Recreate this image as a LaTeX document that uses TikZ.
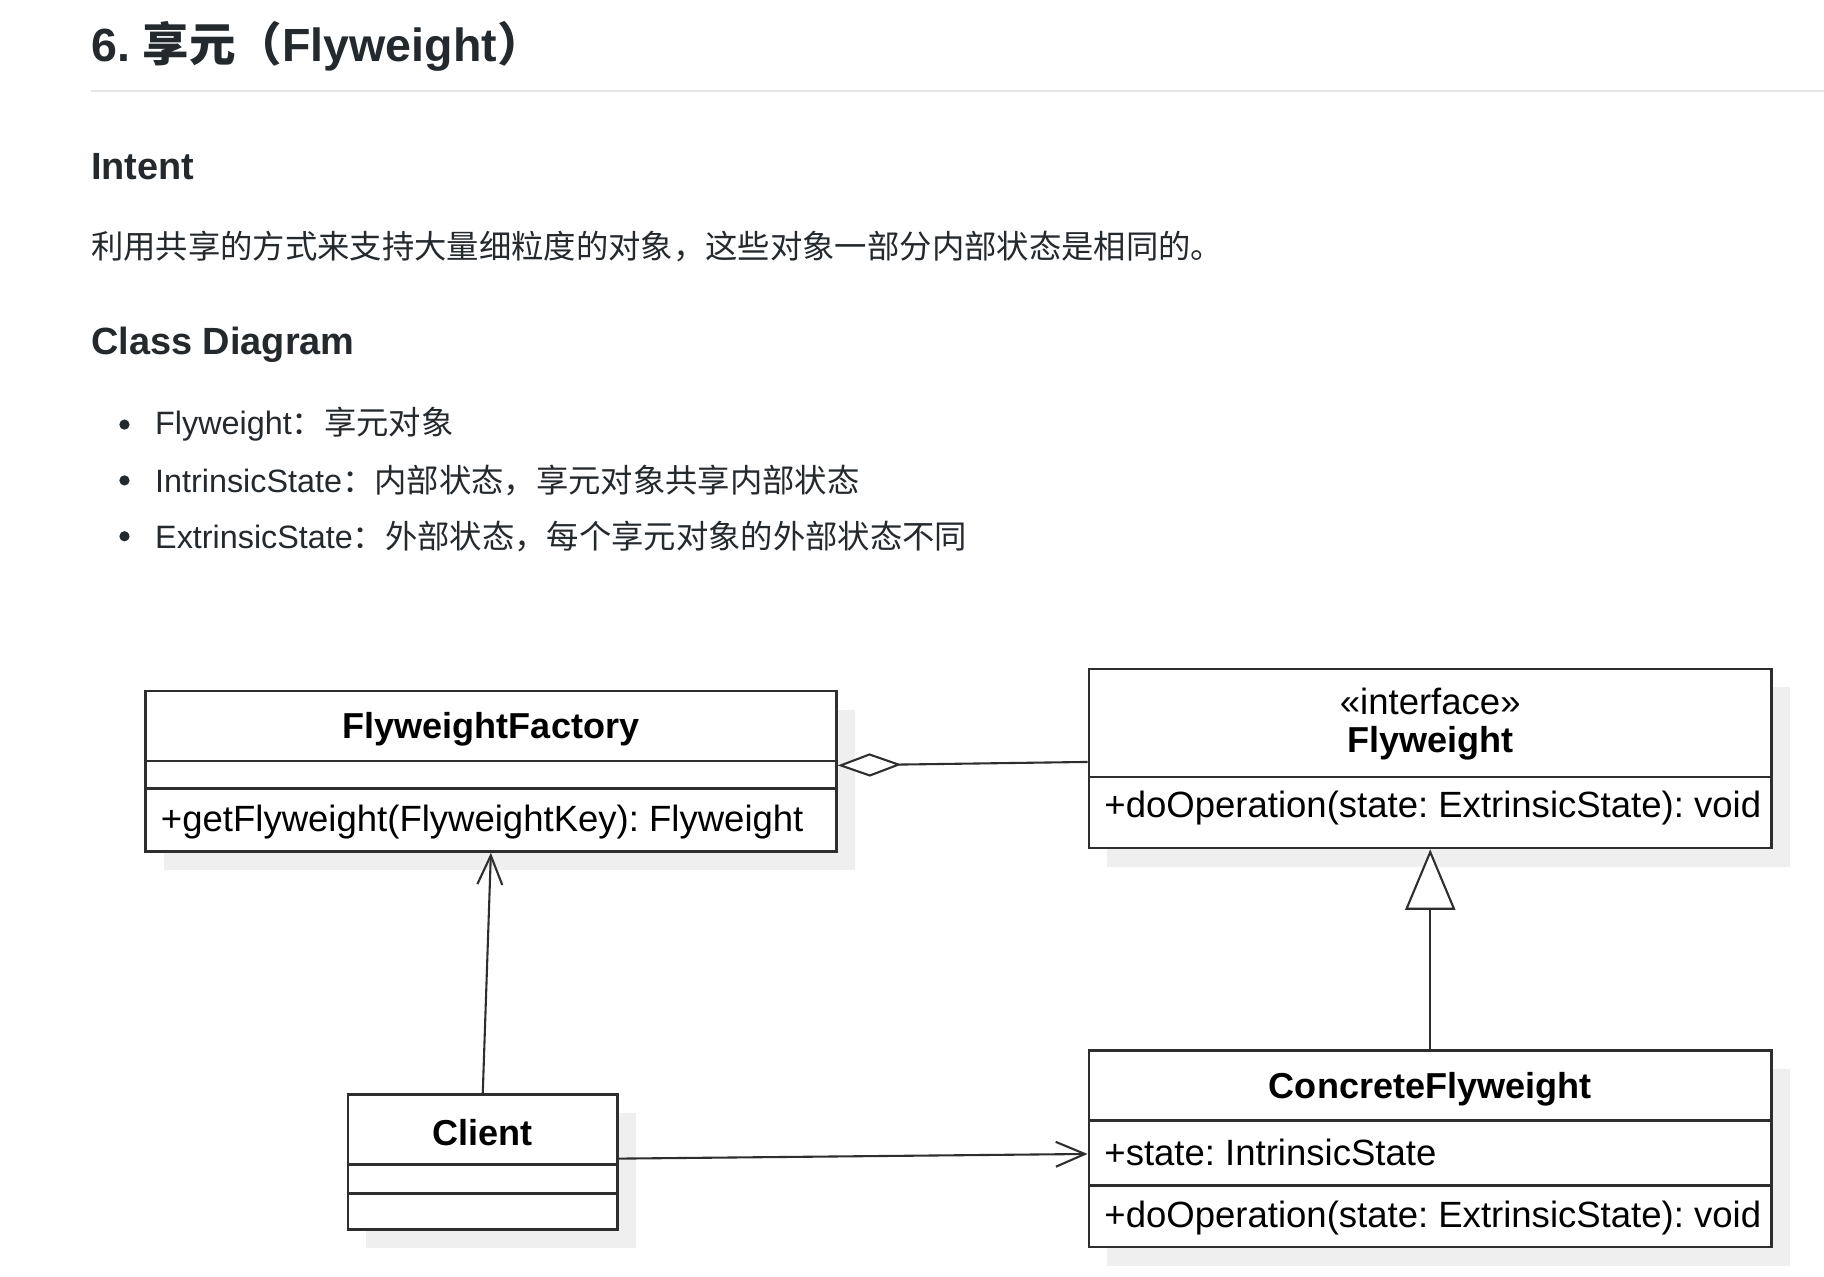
\documentclass[tikz,border=0pt]{standalone}
\usepackage{fontspec}
\setmainfont{Liberation Sans}
\newfontfamily\cjk{Noto Sans CJK SC}
\usetikzlibrary{arrows.meta, shadows}
\frenchspacing

\definecolor{txtgray}{HTML}{24292E}
\definecolor{rulegray}{HTML}{E4E6E9}
\definecolor{umlline}{HTML}{2E2E2E}
\definecolor{shadowgray}{HTML}{EFEFEF}

\tikzset{
  umlbox/.style={draw=umlline, line width=1.1pt, fill=white, inner sep=0pt,
    drop shadow={shadow xshift=8pt, shadow yshift=-8pt, fill=shadowgray, opacity=1}},
  umltxt/.style={inner sep=0pt, text=black, font=\fontsize{15.7}{18}\selectfont},
  umlname/.style={umltxt, font=\fontsize{15.5}{18}\selectfont\bfseries},
  divider/.style={draw=umlline, line width=1.1pt},
  conn/.style={draw=umlline, line width=0.9pt},
  pagetxt/.style={inner sep=0pt, anchor=west, text=txtgray, font=\fontsize{13.9}{16}\selectfont},
  pagehead/.style={pagetxt, font=\fontsize{16.3}{19}\selectfont\bfseries}
}

\begin{document}
\begin{tikzpicture}[x=0.5pt, y=-0.5pt]
	\useasboundingbox (0,0) rectangle (1568,1097);
	\fill[white] (0,0) rectangle (1568,1097);

	% page text above the diagram
	\node[pagetxt, font=\fontsize{20}{24}\selectfont\bfseries] (title) at (78,40) {6. {\cjk 享元（}Flyweight{\cjk ）}};
	\draw[rulegray, line width=1pt] (78,78) -- (1568,78);
	\node[pagehead] (intent) at (78,143) {Intent};
	\node[pagetxt, font=\cjk\fontsize{13.9}{16}\selectfont] (intenttxt) at (78,212) {利用共享的方式来支持大量细粒度的对象，这些对象一部分内部状态是相同的。};
	\node[pagehead] (cdhead) at (78,296) {Class Diagram};
	\foreach \y in {365,413,461}
		\fill[txtgray] (107,\y) circle (2.2pt);
	\node[pagetxt] (item1) at (133,365) {Flyweight{\cjk ：享元对象}};
	\node[pagetxt] (item2) at (133,413) {IntrinsicState{\cjk ：内部状态，享元对象共享内部状态}};
	\node[pagetxt] (item3) at (133,461) {ExtrinsicState{\cjk ：外部状态，每个享元对象的外部状态不同}};

	% class boxes
	\node[umlbox, minimum width=297pt, minimum height=69pt] (fact) at (422,663) {};
	\draw[divider] (fact.west |- 0,654) -- (fact.east |- 0,654);
	\draw[divider] (fact.west |- 0,678) -- (fact.east |- 0,678);
	\node[umlname] (factname) at (422,627) {FlyweightFactory};
	\node[umltxt, anchor=west] (factop) at (138,707) {+getFlyweight(FlyweightKey): Flyweight};

	\node[umlbox, minimum width=293.5pt, minimum height=77pt] (fw) at (1229.5,652) {};
	\draw[divider] (fw.west |- 0,668) -- (fw.east |- 0,668);
	\node[umltxt] (fwstereo) at (1229.5,603) {«interface»};
	\node[umlname] (fwname) at (1229.5,639) {Flyweight};
	\node[umltxt, anchor=west] (fwop) at (949,695) {+doOperation(state: ExtrinsicState): void};

	\node[umlbox, minimum width=116pt, minimum height=58pt] (client) at (415,999) {};
	\draw[divider] (client.west |- 0,1001) -- (client.east |- 0,1001);
	\draw[divider] (client.west |- 0,1026) -- (client.east |- 0,1026);
	\node[umlname] (clientname) at (415,974) {Client};

	\node[umlbox, minimum width=293.5pt, minimum height=84.5pt] (conc) at (1229.5,987.5) {};
	\draw[divider] (conc.west |- 0,963) -- (conc.east |- 0,963);
	\draw[divider] (conc.west |- 0,1019) -- (conc.east |- 0,1019);
	\node[umlname] (concname) at (1229.5,936) {ConcreteFlyweight};
	\node[umltxt, anchor=west] (concattr) at (949,991) {+state: IntrinsicState};
	\node[umltxt, anchor=west] (concop) at (949,1047) {+doOperation(state: ExtrinsicState): void};

	% relations
	\draw[conn, -{Diamond[length=27.5pt, width=10pt, fill=white]}] ([yshift=-1.5pt]fw.west) -- ([yshift=2.5pt]fact.east);
	\draw[conn, -{Straight Barb[length=12.5pt, width=10.7pt]}] (client.north) -- (fact.south);
	\draw[conn, -{Straight Barb[length=12.5pt, width=10.7pt]}] ([yshift=1.5pt]client.east) -- ([yshift=-2.25pt]conc.west);
	\draw[conn, -{Triangle[length=26pt, width=21.5pt, fill=white]}] (conc.north) -- (fw.south);
\end{tikzpicture}
\end{document}
